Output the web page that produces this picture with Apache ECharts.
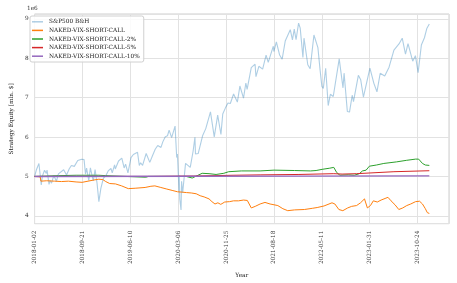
<!DOCTYPE html>
<html><head><meta charset="utf-8">
<script src="https://cdn.jsdelivr.net/npm/echarts@6/dist/echarts.min.js"></script>
<style>html,body{margin:0;padding:0;background:#fff}#c{width:457px;height:283px}</style>
</head><body><div id="c"></div>
<script>
// x tick labels (evenly spaced on the time axis)
const xTickLabels = ['2018-01-02','2018-09-21','2019-06-10','2020-03-06','2020-11-25','2021-08-18','2022-05-11','2023-01-31','2023-10-24'];
const seriesNames = ['S&P500 B&H','NAKED-VIX-SHORT-CALL','NAKED-VIX-SHORT-CALL-2%','NAKED-VIX-SHORT-CALL-5%','NAKED-VIX-SHORT-CALL-10%'];

// values in millions of $ (axis shows 1e6)
const spData = [
 ['2018-01-02',5.000],['2018-01-12',5.168],['2018-01-26',5.329],['2018-02-08',4.787],['2018-02-14',5.006],['2018-02-26',5.156],
 ['2018-03-08',5.078],['2018-03-12',5.162],['2018-03-23',4.800],['2018-03-29',4.899],['2018-04-06',4.830],['2018-04-18',5.023],
 ['2018-05-03',4.878],['2018-05-14',5.064],['2018-05-25',5.047],['2018-06-12',5.169],['2018-06-28',5.038],['2018-07-13',5.195],
 ['2018-07-25',5.279],['2018-08-10',5.255],['2018-08-29',5.405],['2018-09-20',5.436],['2018-10-03',5.427],['2018-10-11',5.060],
 ['2018-10-17',5.210],['2018-10-29',4.899],['2018-11-07',5.219],['2018-11-23',4.884],['2018-12-03',5.175],['2018-12-14',4.823],
 ['2018-12-24',4.361],['2019-01-04',4.696],['2019-01-18',4.954],['2019-02-01',5.021],['2019-02-15',5.149],['2019-03-01',5.201],
 ['2019-03-08',5.088],['2019-03-21',5.296],['2019-03-25',5.190],['2019-04-12',5.392],['2019-04-30',5.464],['2019-05-13',5.216],
 ['2019-05-21',5.312],['2019-06-03',5.090],['2019-06-20',5.479],['2019-07-03',5.557],['2019-07-26',5.613],['2019-08-05',5.277],
 ['2019-08-12',5.348],['2019-08-23',5.281],['2019-09-12',5.583],['2019-10-02',5.357],['2019-10-18',5.538],['2019-11-01',5.689],
 ['2019-11-15',5.787],['2019-12-03',5.737],['2019-12-13',5.878],['2019-12-27',6.010],['2020-01-08',6.034],['2020-01-17',6.176],
 ['2020-01-31',5.984],['2020-02-19',6.280],['2020-02-28',5.479],['2020-03-03',5.570],['2020-03-12',4.602],['2020-03-13',5.028],
 ['2020-03-16',4.426],['2020-03-23',4.149],['2020-03-26',4.878],['2020-04-01',4.581],['2020-04-17',5.333],['2020-05-13',5.231],
 ['2020-05-29',5.646],['2020-06-08',5.995],['2020-06-11',5.568],['2020-06-26',5.581],['2020-07-21',6.041],['2020-08-07',6.215],
 ['2020-09-02',6.640],['2020-09-23',6.004],['2020-10-12',6.557],['2020-10-30',6.065],['2020-11-09',6.586],['2020-11-24',6.742],
 ['2020-12-08',6.866],['2020-12-21',6.852],['2021-01-08',7.095],['2021-01-29',6.889],['2021-02-12',7.297],['2021-03-04',6.989],
 ['2021-03-17',7.373],['2021-03-24',7.213],['2021-04-16',7.762],['2021-05-07',7.851],['2021-05-12',7.536],['2021-05-28',7.798],
 ['2021-06-18',7.727],['2021-07-07',8.083],['2021-07-19',7.898],['2021-08-16',8.308],['2021-08-19',8.172],['2021-09-02',8.415],
 ['2021-09-20',8.083],['2021-10-04',7.976],['2021-10-21',8.438],['2021-11-18',8.727],['2021-11-30',8.471],['2021-12-10',8.740],
 ['2021-12-20',8.473],['2022-01-03',8.896],['2022-01-12',8.766],['2022-01-27',8.024],['2022-02-02',8.512],['2022-02-23',7.837],
 ['2022-03-08',7.736],['2022-03-29',8.592],['2022-04-20',8.272],['2022-05-02',7.707],['2022-05-12',7.289],['2022-05-20',7.236],
 ['2022-06-02',7.747],['2022-06-16',6.800],['2022-06-28',7.087],['2022-07-14',7.030],['2022-08-16',7.985],['2022-09-06',7.251],
 ['2022-09-12',7.623],['2022-09-30',6.651],['2022-10-12',6.635],['2022-10-27',7.063],['2022-11-03',6.900],['2022-11-30',7.568],
 ['2022-12-13',7.456],['2022-12-28',7.017],['2023-01-05',7.063],['2023-02-02',7.753],['2023-02-24',7.364],['2023-03-13',7.150],
 ['2023-03-31',7.621],['2023-04-25',7.551],['2023-05-19',7.775],['2023-06-15',8.209],['2023-07-13',8.365],['2023-07-31',8.512],
 ['2023-08-18',8.105],['2023-09-01',8.376],['2023-09-27',7.927],['2023-10-12',8.068],['2023-10-27',7.636],['2023-11-14',8.339],
 ['2023-12-01',8.523],['2023-12-14',8.755],['2023-12-28',8.871]
];
const nakedData = [
 ['2018-01-02',5.00],['2018-02-02',4.99],['2018-02-06',4.88],['2018-03-10',4.89],['2018-04-23',4.88],['2018-05-31',4.87],
 ['2018-07-08',4.88],['2018-08-20',4.86],['2018-09-22',4.85],['2018-10-25',4.88],['2018-11-27',4.91],['2018-12-24',4.93],
 ['2019-01-15',4.92],['2019-01-31',4.87],['2019-02-22',4.82],['2019-03-26',4.81],['2019-04-29',4.76],['2019-06-05',4.69],
 ['2019-07-13',4.70],['2019-09-06',4.72],['2019-10-08',4.75],['2019-10-30',4.76],['2019-12-02',4.72],['2020-01-04',4.68],
 ['2020-02-07',4.64],['2020-03-04',4.61],['2020-03-31',4.60],['2020-04-22',4.59],['2020-05-19',4.58],['2020-06-15',4.56],
 ['2020-07-07',4.51],['2020-07-29',4.48],['2020-08-25',4.43],['2020-09-10',4.36],['2020-09-27',4.30],['2020-10-13',4.33],
 ['2020-10-29',4.29],['2020-11-20',4.35],['2020-12-17',4.36],['2021-01-08',4.38],['2021-02-04',4.38],['2021-03-04',4.40],
 ['2021-03-25',4.39],['2021-04-16',4.20],['2021-05-08',4.24],['2021-06-04',4.30],['2021-07-01',4.34],['2021-07-29',4.30],
 ['2021-08-20',4.28],['2021-09-10',4.26],['2021-10-08',4.18],['2021-11-04',4.13],['2021-12-12',4.15],['2022-02-04',4.16],
 ['2022-03-20',4.19],['2022-04-16',4.21],['2022-05-24',4.25],['2022-07-07',4.33],['2022-07-23',4.30],['2022-08-14',4.16],
 ['2022-09-05',4.13],['2022-10-02',4.20],['2022-10-24',4.24],['2022-11-20',4.26],['2022-12-12',4.33],['2023-01-03',4.43],
 ['2023-01-19',4.20],['2023-02-05',4.26],['2023-02-21',4.38],['2023-03-15',4.35],['2023-04-05',4.40],['2023-04-27',4.44],
 ['2023-05-13',4.47],['2023-05-30',4.38],['2023-06-21',4.28],['2023-07-12',4.16],['2023-08-03',4.20],['2023-08-25',4.26],
 ['2023-09-16',4.30],['2023-10-13',4.36],['2023-11-04',4.37],['2023-11-20',4.30],['2023-12-06',4.18],['2023-12-17',4.08],
 ['2023-12-28',4.06]
];
const naked2Data = [
 ['2018-01-02',5.00],['2018-05-14',5.02],['2018-08-20',5.03],['2018-12-24',5.03],['2019-01-31',5.02],['2019-02-10',4.98],
 ['2019-09-10',4.98],['2019-09-25',5.00],['2020-04-20',5.00],['2020-05-24',4.96],['2020-07-18',5.08],['2020-08-25',5.07],
 ['2020-10-03',5.05],['2020-11-15',5.08],['2020-12-12',5.12],['2021-02-20',5.14],['2021-06-04',5.14],['2021-08-20',5.16],
 ['2021-12-12',5.15],['2022-03-10',5.14],['2022-04-10',5.15],['2022-05-13',5.18],['2022-06-25',5.21],['2022-07-17',5.23],
 ['2022-08-02',5.10],['2022-08-20',5.03],['2022-10-05',5.04],['2022-11-08',5.03],['2022-12-05',5.07],['2022-12-23',5.14],
 ['2023-01-12',5.16],['2023-01-30',5.26],['2023-03-10',5.29],['2023-04-20',5.33],['2023-06-30',5.37],['2023-08-25',5.41],
 ['2023-10-13',5.44],['2023-10-30',5.44],['2023-11-20',5.33],['2023-12-06',5.29],['2023-12-28',5.28]
];
const naked5Data = [
 ['2018-01-02',5.00],['2019-10-01',5.00],['2020-06-01',5.01],['2021-01-05',5.03],['2021-06-04',5.04],['2022-01-05',5.05],
 ['2022-07-17',5.07],['2022-09-01',5.06],['2022-11-20',5.07],['2023-06-15',5.12],['2023-12-28',5.145]
];
const naked10Data = [
 ['2018-01-02',5.000],['2020-06-01',5.003],['2022-01-03',5.008],['2023-12-28',5.015]
];

const xStart = Date.UTC(2018,0,2);
const toDay = s => { const [y,m,d] = s.split('-').map(Number); return (Date.UTC(y,m-1,d) - xStart) / 86400000; };
const conv = arr => arr.map(([d,v]) => [toDay(d), v]);

const tickStep = toDay('2023-10-24') / 8;
const font = 'DejaVu Serif';
const fs = 5.8;

const chart = echarts.init(document.getElementById('c'), null, {renderer:'canvas'});
const colors = ['rgba(31,119,180,0.36)','#ff7f0e','#2ca02c','#d62728','#9467bd'];
const datas = [spData, nakedData, naked2Data, naked5Data, naked10Data];
chart.setOption({
  animation:false,
  backgroundColor:'#fff',
  color: colors,
  textStyle:{fontFamily:font},
  grid:{left:28, right:8, top:14, bottom:58, show:true, borderColor:'#cfcfcf', borderWidth:1, backgroundColor:'transparent'},
  graphic:[{type:'text', left:27, top:5, style:{text:'1e6', font:`${fs}px "${font}"`, fill:'#333'}}],
  legend:{
    orient:'vertical', left:30, top:16, data:seriesNames,
    icon:'rect', itemWidth:11, itemHeight:1.5, itemGap:0,
    padding:[1.5,4,1.5,2], backgroundColor:'rgba(255,255,255,0.85)', borderColor:'#d0d0d0', borderWidth:1, borderRadius:2,
    textStyle:{fontFamily:font, fontSize:fs, color:'#222', lineHeight:8.6, padding:[0,0,0,1]}
  },
  xAxis:{
    type:'value', min:0, max:2295, interval:tickStep,
    name:'Year', nameLocation:'middle', nameGap:47,
    nameTextStyle:{fontFamily:font, fontSize:fs, color:'#222'},
    axisLine:{show:false}, axisTick:{show:false},
    splitLine:{show:true, lineStyle:{color:'#e2e2e2', width:1}},
    axisLabel:{rotate:90, margin:7, fontFamily:font, fontSize:fs, color:'#333',
      showMinLabel:true, showMaxLabel:false,
      formatter:v => { const i = Math.round(v / tickStep); return (Math.abs(v - i*tickStep) < 0.5 && i < xTickLabels.length) ? xTickLabels[i] : ''; }}
  },
  yAxis:{
    type:'value', min:3.8, max:9.126, splitNumber:5,
    name:'Strategy Equity [mln. $]', nameLocation:'middle', nameGap:19,
    nameTextStyle:{fontFamily:font, fontSize:fs, color:'#222'},
    axisLine:{show:false}, axisTick:{show:false},
    splitLine:{show:true, lineStyle:{color:'#e2e2e2', width:1}},
    axisLabel:{margin:6, fontFamily:font, fontSize:fs, color:'#333',
      formatter:v => (Math.abs(v - Math.round(v)) < 1e-6 ? String(Math.round(v)) : '')}
  },
  series: seriesNames.map((n,i) => ({
    name:n, type:'line', data:conv(datas[i]), showSymbol:false, symbol:'none',
    lineStyle:{width: i===0 ? 1.1 : (i===4 ? 1.4 : 1), color: colors[i]},
    itemStyle:{color: colors[i]}, z: 2+i
  }))
});
</script></body></html>
